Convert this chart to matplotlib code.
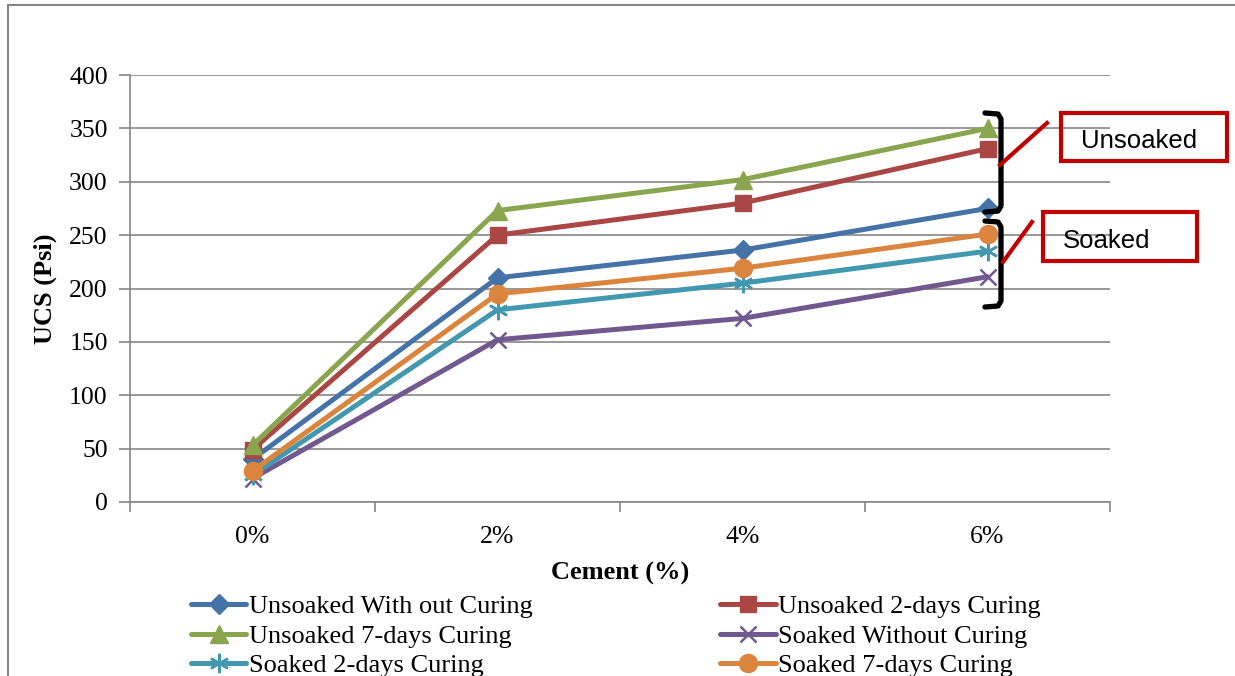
import matplotlib
matplotlib.use("Agg")
import matplotlib.pyplot as plt
from matplotlib.patches import Rectangle
from matplotlib.lines import Line2D

# data
cement = ["0%", "2%", "4%", "6%"]
unsoaked_no_cure = [40, 210, 236, 275]
unsoaked_2d = [49, 250, 280, 331]
unsoaked_7d = [53, 273, 302, 350]
soaked_no_cure = [22, 152, 172, 211]
soaked_2d = [25, 180, 205, 235]
soaked_7d = [29, 195, 219, 251]

series = [
    ("Unsoaked With out Curing", unsoaked_no_cure, "#4572A7", "D", 10.5),
    ("Unsoaked 2-days Curing", unsoaked_2d, "#AA4643", "s", 12),
    ("Unsoaked 7-days Curing", unsoaked_7d, "#89A54E", "^", 13),
    ("Soaked Without Curing", soaked_no_cure, "#71588F", "x", 12),
    ("Soaked 2-days Curing", soaked_2d, "#4198AF", (6, 2, 0), 14),
    ("Soaked 7-days Curing", soaked_7d, "#DB843D", "o", 13),
]

serif = ["Liberation Serif", "DejaVu Serif"]
plt.rcParams["font.family"] = serif

fig = plt.figure(figsize=(12.35, 6.76), dpi=100)
ax = fig.add_axes([130/1235, 1 - 502/676, 980/1235, 427/676])

x = list(range(len(cement)))
handles = []
for name, vals, col, mk, ms in series:
    mew = 1.8 if mk == "x" or isinstance(mk, tuple) else 1
    h, = ax.plot(x, vals, color=col, lw=3.6, marker=mk, ms=ms,
                 mfc=col, mec=col, mew=mew, label=name, solid_capstyle="round")
    handles.append(h)

ax.set_xlim(-0.5, 3.5)
ax.set_ylim(0, 400)
ax.set_yticks(range(0, 401, 50))
ax.set_xticks(x)
ax.set_xticklabels(cement)
ax.set_xticks([-0.5, 0.5, 1.5, 2.5, 3.5], minor=True)
ax.tick_params(axis="x", which="major", length=0, labelsize=18.5, pad=17)
ax.tick_params(axis="x", which="minor", length=7, color="#868686", width=1.2)
ax.tick_params(axis="y", length=8, color="#868686", width=1.2, labelsize=18.5, pad=8)
ax.grid(axis="y", color="#868686", lw=1.2)
ax.set_axisbelow(True)
for s in ["top", "right"]:
    ax.spines[s].set_visible(False)
for s in ["left", "bottom"]:
    ax.spines[s].set_color("#868686")
    ax.spines[s].set_linewidth(1.2)

fig.text(620/1235, 1 - 573/676, "Cement (%)", ha="center", va="center",
         fontsize=19, fontweight="bold")
fig.text(45/1235, 1 - 289/676, "UCS (Psi)", ha="center", va="center",
         rotation=90, fontsize=19, fontweight="bold")

# legend, row-wise order in two columns (last row runs off the bottom, as in the source)
order = [0, 2, 4, 1, 3, 5]
leg = fig.legend([handles[i] for i in order], [series[i][0] for i in order],
                 ncol=2, loc="upper left", bbox_to_anchor=(191/1235, 1 - 595/676),
                 frameon=False, fontsize=19, handlelength=2.1, handletextpad=0.1,
                 columnspacing=7.1, labelspacing=0.22, borderpad=0, borderaxespad=0)

# outer chart border
fig.add_artist(Line2D([8/1235, 8/1235], [0, 1 - 5/676], transform=fig.transFigure,
                      color="#868686", lw=1.5))
fig.add_artist(Line2D([8/1235, 1], [1 - 5/676, 1 - 5/676], transform=fig.transFigure,
                      color="#868686", lw=1.5))

# brackets and callouts
def fx(px):
    return px / 1235

def fy(py):
    return 1 - py / 676

def bracket(y0, y1):
    xs = [985, 998, 1001, 1001, 998, 985]
    ys = [y0, y0 + 1, y0 + 6, y1 - 6, y1 - 1, y1]
    fig.add_artist(Line2D([fx(v) for v in xs], [fy(v) for v in ys],
                          transform=fig.transFigure, color="black", lw=3.8,
                          solid_joinstyle="round", solid_capstyle="round"))

bracket(113, 212)
bracket(221, 307)

fig.add_artist(Line2D([fx(1000), fx(1047)], [fy(165), fy(123)],
                      transform=fig.transFigure, color="#C00000", lw=3))
fig.add_artist(Line2D([fx(1003), fx(1032)], [fy(262), fy(222)],
                      transform=fig.transFigure, color="#C00000", lw=3))

for x0, y0, x1, y1, txt in [(1061, 113, 1227, 161, "Unsoaked"),
                            (1043, 212, 1197, 261, "Soaked")]:
    fig.add_artist(Rectangle((fx(x0), fy(y1)), fx(x1) - fx(x0), fy(y0) - fy(y1),
                             transform=fig.transFigure, fill=False,
                             ec="#C00000", lw=3))
    fig.text(fx(x0 + 20), fy((y0 + y1) / 2 + 4), txt, ha="left", va="center",
             fontsize=18.5, family=["Liberation Sans", "DejaVu Sans"])

fig.savefig("out.png", dpi=100)
